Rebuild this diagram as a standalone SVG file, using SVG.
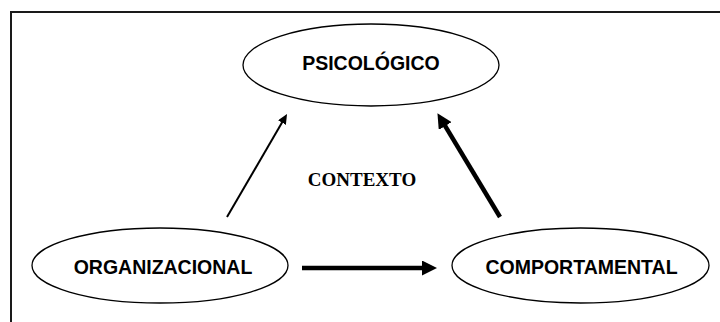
<svg xmlns="http://www.w3.org/2000/svg" width="720" height="322" viewBox="0 0 720 322">
  <style>
    .frame { fill: none; stroke: #1a1a1a; stroke-width: 2; }
    .node ellipse { fill: #ffffff; stroke: #000000; stroke-width: 1.3; }
    .node text { font-family: "Liberation Sans", Arial, sans-serif; font-weight: bold; font-size: 19.5px; fill: #000000; text-anchor: middle; }
    .label { font-family: "Liberation Serif", "Times New Roman", serif; font-weight: bold; font-size: 19px; fill: #000000; text-anchor: middle; }
    .thin { fill: none; stroke: #000000; stroke-width: 2; }
    .thick { fill: none; stroke: #000000; stroke-width: 4.5; }
  </style>
  <defs>
    <marker id="headThin" markerUnits="userSpaceOnUse" markerWidth="10" markerHeight="9" refX="5" refY="4.5" orient="auto">
      <path d="M0,0 L10,4.5 L0,9 z" fill="#000000"/>
    </marker>
    <marker id="headThick" markerUnits="userSpaceOnUse" markerWidth="15" markerHeight="15" refX="6" refY="7.5" orient="auto">
      <path d="M0,0 L15,7.5 L0,15 z" fill="#000000"/>
    </marker>
  </defs>

  <rect class="frame" x="11" y="12" width="730" height="340"/>

  <g id="psicologico" class="node">
    <ellipse cx="371" cy="65" rx="128" ry="41"/>
    <text x="371" y="70">PSICOLÓGICO</text>
  </g>

  <g id="organizacional" class="node">
    <ellipse cx="160" cy="265.5" rx="128" ry="37.5"/>
    <text x="163" y="274">ORGANIZACIONAL</text>
  </g>

  <g id="comportamental" class="node">
    <ellipse cx="580.5" cy="265.5" rx="128.5" ry="37.5"/>
    <text x="581.5" y="274">COMPORTAMENTAL</text>
  </g>

  <text class="label" x="362" y="186">CONTEXTO</text>

  <g id="connectors">
    <line class="thin" x1="227" y1="217" x2="284.5" y2="118.3" marker-end="url(#headThin)"/>
    <line class="thick" x1="500" y1="217" x2="442.1" y2="120.9" marker-end="url(#headThick)"/>
    <line class="thick" x1="302" y1="268" x2="428" y2="268" marker-end="url(#headThick)"/>
  </g>
</svg>
